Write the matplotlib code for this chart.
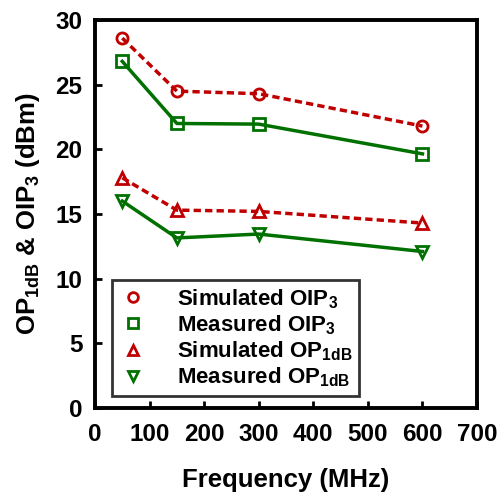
import matplotlib
matplotlib.use("Agg")
import matplotlib.pyplot as plt
from matplotlib.lines import Line2D

plt.rcParams['font.family'] = ['Liberation Sans', 'DejaVu Sans']
plt.rcParams['font.weight'] = 'bold'
plt.rcParams['mathtext.default'] = 'regular'

freq = [50, 150, 300, 600]
sim_oip3 = [28.6, 24.5, 24.3, 21.8]
meas_oip3 = [26.8, 22.0, 21.95, 19.65]
sim_op1db = [17.8, 15.3, 15.2, 14.3]
meas_op1db = [16.0, 13.15, 13.45, 12.1]

red = '#c00000'
green = '#007000'

fig = plt.figure(figsize=(5.04, 4.93), dpi=100)
ax = fig.add_axes([95 / 504, 1 - 408 / 493, (477 - 95) / 504, (408 - 20) / 493])

mk = dict(markersize=8, markeredgewidth=2, markerfacecolor='none', lw=2.5)
ax.plot(freq, sim_oip3, color=red, ls=(0, (2.1, 1.2)), marker='o',
        markeredgecolor=red, **mk)
ax.plot(freq, meas_oip3, color=green, ls='-', marker='s',
        markeredgecolor=green, **mk)
ax.plot(freq, sim_op1db, color=red, ls=(0, (2.1, 1.2)), marker='^',
        markeredgecolor=red, **mk)
ax.plot(freq, meas_op1db, color=green, ls='-', marker='v',
        markeredgecolor=green, **mk)

ax.set_xlim(0, 700)
ax.set_ylim(0, 30)
ax.set_xticks(range(0, 701, 100))
ax.set_yticks(range(0, 31, 5))
ax.tick_params(direction='in', length=5, width=2, labelsize=17.5)
ax.tick_params(axis='x', pad=11)
ax.tick_params(axis='y', pad=9)
for s in ax.spines.values():
    s.set_linewidth(2.8)
ax.set_xlabel('Frequency (MHz)', fontsize=18.5, fontweight='bold', labelpad=16)
ax.set_ylabel('OP$_{1dB}$ & OIP$_3$ (dBm)', fontsize=18.5, fontweight='bold', labelpad=10)

# legend with marker-only handles
handles = [
    Line2D([], [], ls='none', marker='o', color=red, markerfacecolor='none', markersize=7, markeredgewidth=2),
    Line2D([], [], ls='none', marker='s', color=green, markerfacecolor='none', markersize=7, markeredgewidth=2),
    Line2D([], [], ls='none', marker='^', color=red, markerfacecolor='none', markersize=7, markeredgewidth=2),
    Line2D([], [], ls='none', marker='v', color=green, markerfacecolor='none', markersize=7, markeredgewidth=2),
]
labels = ['Simulated OIP$_3$', 'Measured OIP$_3$', 'Simulated OP$_{1dB}$', 'Measured OP$_{1dB}$']
leg = ax.legend(handles, labels, loc='lower left', bbox_to_anchor=(0.045, 0.031),
                borderaxespad=0,
                fontsize=16, frameon=True, fancybox=False, edgecolor='black',
                handletextpad=1.3, labelspacing=0.12, borderpad=0.3, handlelength=1.3)
leg.get_frame().set_linewidth(2)

fig.savefig('out.png', dpi=100)
